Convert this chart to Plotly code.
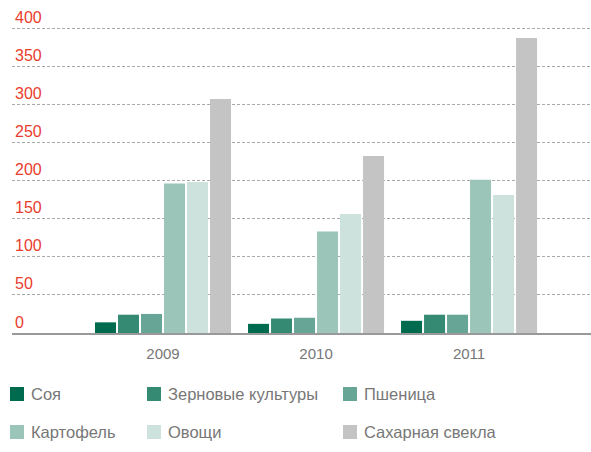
import plotly.graph_objects as go

years = ["2009", "2010", "2011"]
series_names = ["Соя", "Зерновые культуры", "Пшеница", "Картофель", "Овощи", "Сахарная свекла"]
soy = [14, 12, 16]
grain = [24, 19, 24]
wheat = [25, 20, 24]
potato = [196, 133, 201]
vegetables = [198, 156, 181]
sugar_beet = [307, 232, 387]
colors = ["#006b4f", "#358a73", "#67a596", "#9bc5b9", "#cde2dc", "#c4c4c4"]
y_ticks = [0, 50, 100, 150, 200, 250, 300, 350, 400]

values = [soy, grain, wheat, potato, vegetables, sugar_beet]

W, H = 591, 452
ML, MR, MT, MB = 12, 0, 0, 119
PW, PH = W - ML - MR, H - MT - MB

FONT = "Helvetica Neue, Helvetica, Arial, Liberation Sans, sans-serif"

fig = go.Figure()
for name, vals, col in zip(series_names, values, colors):
    fig.add_trace(go.Bar(x=years, y=vals, name=name, marker=dict(color=col, line=dict(width=0)),
                         showlegend=False))

fig.update_layout(
    width=W, height=H,
    margin=dict(l=ML, r=MR, t=MT, b=MB),
    paper_bgcolor="white", plot_bgcolor="white",
    barmode="group", bargap=0.098, bargroupgap=0.087,
    font=dict(family=FONT),
)
fig.update_xaxes(
    range=[-0.987, 2.797], showgrid=False, showline=True, linecolor="#999999", linewidth=2,
    ticks="", tickfont=dict(size=15, color="#777777"), ticklabelstandoff=6, automargin=False,
)
fig.update_yaxes(
    range=[0, PH / 0.7625], tickvals=y_ticks, showgrid=True, gridcolor="#aaaaaa", gridwidth=1,
    griddash="3px,2px", zeroline=False, showline=False, ticks="",
    ticklabelposition="inside", ticklabelshift=-11, ticklabelstandoff=0, automargin=False,
    tickfont=dict(size=16, color="#ea3c2f"),
)

# manual legend
col_x = [10, 147, 343]
row_y = [394, 432]
for i, (name, col) in enumerate(zip(series_names, colors)):
    cx = col_x[i % 3]
    cy = row_y[i // 3]
    x0 = (cx - ML) / PW
    x1 = (cx + 14 - ML) / PW
    y0 = (MT + PH - (cy - 7)) / PH
    y1 = (MT + PH - (cy + 7)) / PH
    fig.add_shape(type="rect", xref="paper", yref="paper", x0=x0, x1=x1, y0=y1, y1=y0,
                  fillcolor=col, line=dict(width=0))
    fig.add_annotation(xref="paper", yref="paper", x=(cx + 19 - ML) / PW, y=(MT + PH - cy) / PH,
                       text=name, showarrow=False, xanchor="left", yanchor="middle",
                       font=dict(size=16.5, color="#777777"))

fig.write_html("out.html", config={"displayModeBar": False},
               post_script="document.body.style.margin='0';")
